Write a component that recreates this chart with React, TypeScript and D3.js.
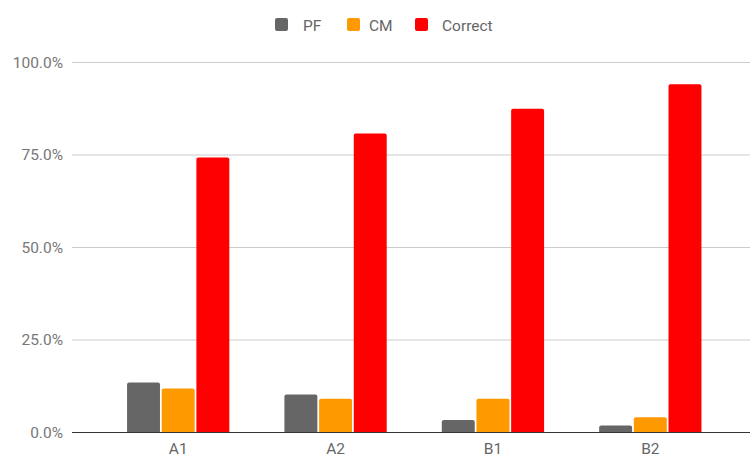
import React from "react";
import * as d3 from "d3";

const categories = ["A1", "A2", "B1", "B2"];
const seriesNames = ["PF", "CM", "Correct"];
const pfValues = [0.135, 0.103, 0.034, 0.019];
const cmValues = [0.119, 0.091, 0.091, 0.041];
const correctValues = [0.743, 0.808, 0.875, 0.941];
const yTicks = [0, 0.25, 0.5, 0.75, 1.0];

const colors = ["#666666", "#ff9900", "#ff0000"];

const W = 750;
const H = 458;

export default function App() {
  const series = [pfValues, cmValues, correctValues];

  const y = d3.scaleLinear().domain([0, 1]).range([432.5, 62.5]);
  const x = d3.scaleBand<string>().domain(categories).range([99.5, 729]).paddingInner(0.35).paddingOuter(0.175);
  const inner = d3.scaleBand<string>().domain(seriesNames).range([0, x.bandwidth()]).paddingInner(0.05);

  const fmt = d3.format(".1%");
  const gridLeft = 72;
  const gridRight = W;

  const legendItems = [
    { name: "PF", sx: 275, tx: 303 },
    { name: "CM", sx: 347, tx: 369 },
    { name: "Correct", sx: 415, tx: 442 },
  ];

  const barPath = (x0: number, w: number, yTop: number, yBase: number, r: number) => {
    const rr = Math.min(r, (yBase - yTop) / 2, w / 2);
    const p = d3.path();
    p.moveTo(x0, yBase);
    p.lineTo(x0, yTop + rr);
    p.quadraticCurveTo(x0, yTop, x0 + rr, yTop);
    p.lineTo(x0 + w - rr, yTop);
    p.quadraticCurveTo(x0 + w, yTop, x0 + w, yTop + rr);
    p.lineTo(x0 + w, yBase);
    p.closePath();
    return p.toString();
  };

  return (
    <svg width={W} height={H} style={{ display: "block", position: "absolute", left: 0, top: 0, background: "#fff" }} fontFamily="Roboto, Arial, sans-serif">
      {/* legend */}
      {legendItems.map((l, i) => (
        <g key={l.name}>
          <rect x={l.sx} y={18} width={13} height={13} rx={2} fill={colors[i]} />
          <text x={l.tx} y={31} fontSize={15.5} fill="#666666">{l.name}</text>
        </g>
      ))}

      {/* gridlines and y labels */}
      {yTicks.map((t) => (
        <g key={t}>
          {t !== 0 && (
            <line x1={gridLeft} x2={gridRight} y1={y(t)} y2={y(t)} stroke="#cccccc" strokeWidth={1} />
          )}
          <text x={63} y={y(t) + 5} fontSize={15.5} fill="#777777" textAnchor="end">{fmt(t)}</text>
        </g>
      ))}

      {/* bars */}
      {categories.map((c, ci) => (
        <g key={c}>
          {series.map((vals, si) => {
            const bx = (x(c) ?? 0) + (inner(seriesNames[si]) ?? 0);
            return (
              <path key={si} d={barPath(bx, inner.bandwidth(), y(vals[ci]), y(0), 2)} fill={colors[si]} />
            );
          })}
          <text x={(x(c) ?? 0) + x.bandwidth() / 2} y={454} fontSize={15.5} fill="#666666" textAnchor="middle">{c}</text>
        </g>
      ))}

      {/* baseline */}
      <line x1={gridLeft} x2={gridRight} y1={y(0)} y2={y(0)} stroke="#333333" strokeWidth={1.2} />
    </svg>
  );
}
